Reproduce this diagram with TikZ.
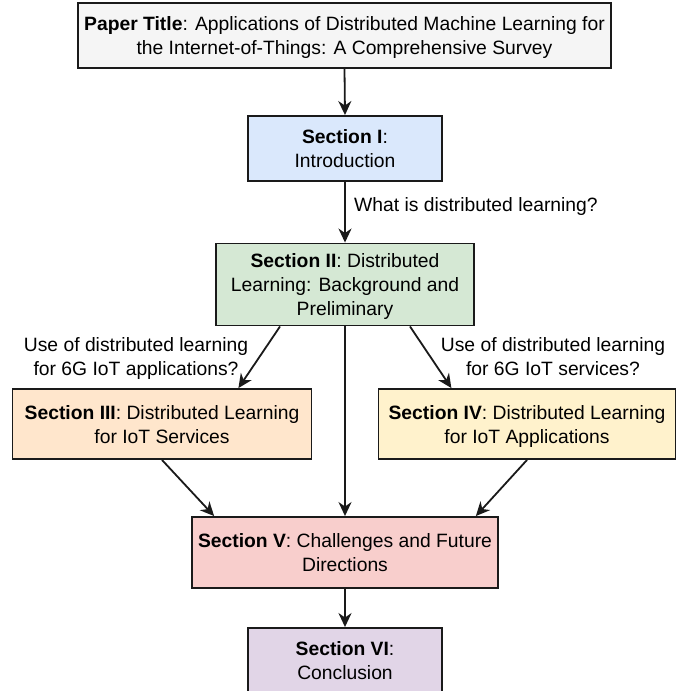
\documentclass[tikz,border=0pt]{standalone}
\usepackage{fontspec}
\setmainfont{Liberation Sans}
\usetikzlibrary{arrows.meta,calc}
\definecolor{cTitle}{HTML}{F5F5F5}
\definecolor{cBlue}{HTML}{DAE8FC}
\definecolor{cGreen}{HTML}{D5E8D4}
\definecolor{cOrange}{HTML}{FFE6CC}
\definecolor{cYellow}{HTML}{FFF2CC}
\definecolor{cRed}{HTML}{F8CECC}
\definecolor{cPurple}{HTML}{E1D5E7}
\definecolor{cLine}{HTML}{1A1A1A}
\newcommand{\tstr}{\rule{0pt}{18.5pt}}
\newcommand{\bstr}{\rule[-4.5pt]{0pt}{4.5pt}}
\begin{document}
\begin{tikzpicture}[x=1pt,y=-1pt,
  box/.style={draw=cLine, line width=1.9pt, align=center, inner sep=0pt, font=\fontsize{19.3}{24}\selectfont},
  arr/.style={draw=cLine, -{Stealth[length=14pt,width=13pt,inset=4.5pt]}, line width=1.8pt},
  lab/.style={align=center, inner sep=0pt, font=\fontsize{19.3}{23.5}\selectfont}]
\clip (0,0) rectangle (688,691);
\fill[white] (0,0) rectangle (688,691);

\node[box, fill=cTitle, minimum width=533pt, minimum height=65pt] (title) at (344.5,35.2)
  {\tstr\textbf{Paper Title}: Applications of Distributed Machine Learning for\\the Internet-of-Things: A Comprehensive Survey\bstr};
\node[box, fill=cBlue, minimum width=194pt, minimum height=65pt] (s1) at (345,148.5)
  {\tstr\textbf{Section I}:\\Introduction\bstr};
\node[box, fill=cGreen, minimum width=258pt, minimum height=82pt] (s2) at (345,284.5)
  {\tstr\textbf{Section II}: Distributed\\Learning: Background and\\Preliminary\bstr};
\node[box, fill=cOrange, minimum width=299pt, minimum height=70pt] (s3) at (162,424)
  {\tstr\textbf{Section III}: Distributed Learning\\for IoT Services\bstr};
\node[box, fill=cYellow, minimum width=297pt, minimum height=70pt] (s4) at (527,424)
  {\tstr\textbf{Section IV}: Distributed Learning\\for IoT Applications\bstr};
\node[box, fill=cRed, minimum width=306pt, minimum height=71pt] (s5) at (345,552.5)
  {\tstr\textbf{Section V}: Challenges and Future\\Directions\bstr};
\node[box, fill=cPurple, minimum width=194pt, minimum height=65pt] (s6) at (345,660.5)
  {\tstr\textbf{Section VI}:\\Conclusion\bstr};

\node[lab, anchor=west] (l1) at (354,207) {What is distributed learning?};
\node[lab] (l2) at (136,356.5) {\tstr Use of distributed learning\\for 6G IoT applications?\bstr};
\node[lab] (l3) at (553,356.5) {\tstr Use of distributed learning\\for 6G IoT services?\bstr};

\draw[arr] (title.south) -- (s1.north);
\draw[arr] (s1.south) -- (s2.north);
\draw[arr] ($(s2.south west)!0.25!(s2.south east)$) -- ($(s3.north west)!0.754!(s3.north east)$);
\draw[arr] ($(s2.south west)!0.75!(s2.south east)$) -- ($(s4.north west)!0.247!(s4.north east)$);
\draw[arr] (s2.south) -- (s5.north);
\draw[arr] (s3.south) -- ($(s5.north west)!0.075!(s5.north east)$);
\draw[arr] (s4.south) -- ($(s5.north west)!0.925!(s5.north east)$);
\draw[arr] (s5.south) -- (s6.north);
\end{tikzpicture}
\end{document}
